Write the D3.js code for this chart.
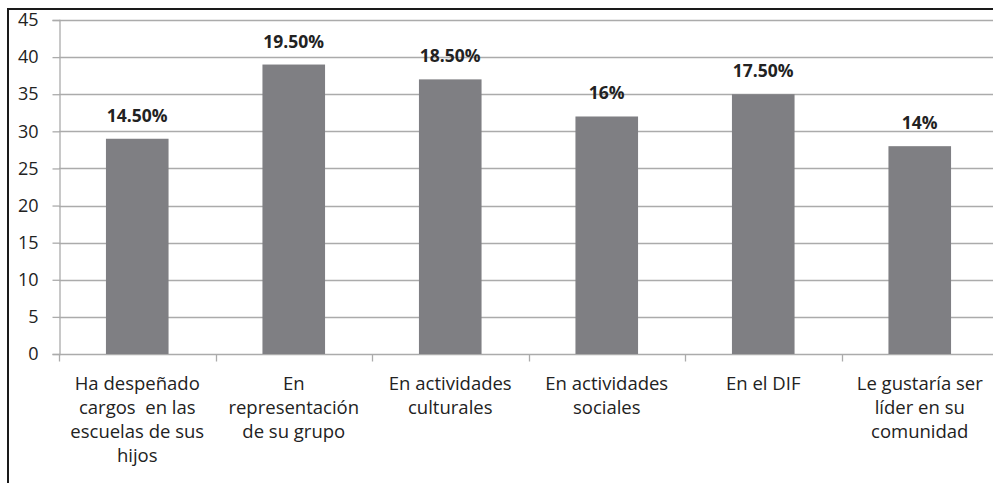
<!DOCTYPE html>
<html>
<head>
<meta charset="utf-8">
<script src="https://cdn.jsdelivr.net/npm/d3@7"></script>
<style>
  html, body { margin: 0; padding: 0; background: #fff; }
  svg { display: block; }
  text { font-family: "Open Sans", "Noto Sans", sans-serif; white-space: pre; }
</style>
</head>
<body>
<svg id="chart" width="993" height="483"></svg>
<script>
// Participación: categories, counts and stated percentages
const categories = [
  ["Ha despeñado", "cargos  en las", "escuelas de sus", "hijos"],
  ["En", "representación", "de su grupo"],
  ["En actividades", "culturales"],
  ["En actividades", "sociales"],
  ["En el DIF"],
  ["Le gustaría ser", "líder en su", "comunidad"]
];
const values = [29, 39, 37, 32, 35, 28];
const percentLabels = ["14.50%", "19.50%", "18.50%", "16%", "17.50%", "14%"];
const yTicks = [0, 5, 10, 15, 20, 25, 30, 35, 40, 45];

const svg = d3.select("#chart");
const plotLeft = 59, plotRight = 998, plotTop = 20, plotBottom = 354;

const x = d3.scaleBand().domain(d3.range(values.length)).range([plotLeft, plotRight]).paddingInner(0.6).paddingOuter(0.3);
const xCat = d3.scaleBand().domain(d3.range(values.length)).range([plotLeft, plotRight]);
const y = d3.scaleLinear().domain([0, 45]).range([plotBottom, plotTop]);

// outer frame
svg.append("rect").attr("x", 8).attr("y", 9).attr("width", 1000).attr("height", 500)
  .attr("fill", "none").attr("stroke", "#1a1a1a").attr("stroke-width", 2);

// horizontal gridlines
svg.append("g").selectAll("line").data(yTicks.filter(d => d > 0)).join("line")
  .attr("x1", plotLeft).attr("x2", plotRight)
  .attr("y1", d => Math.round(y(d)) + 0.5).attr("y2", d => Math.round(y(d)) + 0.5)
  .attr("stroke", "#ababab").attr("stroke-width", 1.3);

// y axis
const yAxis = svg.append("g").attr("transform", `translate(${plotLeft + 0.5},0)`)
  .call(d3.axisLeft(y).tickValues(yTicks).tickSize(7).tickPadding(14));
yAxis.select(".domain").attr("stroke", "#ababab").attr("stroke-width", 1.3);
yAxis.selectAll(".tick line").attr("stroke", "#ababab").attr("stroke-width", 1.3);
yAxis.selectAll(".tick text").attr("font-size", 18).attr("fill", "#222")
  .attr("font-family", "'Open Sans', sans-serif");

// x axis baseline and category separators
const xAxis = svg.append("g").attr("transform", `translate(0,${plotBottom + 0.5})`);
xAxis.append("line").attr("x1", plotLeft).attr("x2", plotRight).attr("stroke", "#ababab").attr("stroke-width", 1.3);
xAxis.selectAll("line.sep").data(d3.range(values.length + 1)).join("line").attr("class", "sep")
  .attr("x1", i => Math.round(plotLeft + i * xCat.step()) + 0.5)
  .attr("x2", i => Math.round(plotLeft + i * xCat.step()) + 0.5)
  .attr("y1", 0).attr("y2", 7).attr("stroke", "#ababab").attr("stroke-width", 1.3);

// bars
svg.append("g").selectAll("rect").data(values).join("rect")
  .attr("x", (d, i) => x(i)).attr("width", x.bandwidth())
  .attr("y", d => y(d)).attr("height", d => y(0) - y(d))
  .attr("fill", "#7f7f83");

// value labels
svg.append("g").selectAll("text").data(values).join("text")
  .attr("x", (d, i) => x(i) + x.bandwidth() / 2)
  .attr("y", d => y(d) - 17)
  .attr("text-anchor", "middle").attr("font-size", 17.5).attr("font-weight", "bold").attr("fill", "#222")
  .text((d, i) => percentLabels[i]);

// category labels
const catG = svg.append("g").selectAll("text").data(categories).join("text")
  .attr("text-anchor", "middle").attr("font-size", 18.5).attr("fill", "#222")
  .attr("transform", (d, i) => `translate(${xCat(i) + xCat.bandwidth() / 2},390)`);
catG.selectAll("tspan").data(d => d).join("tspan")
  .attr("x", 0).attr("dy", (d, j) => j === 0 ? 0 : 24).text(d => d);
</script>
</body>
</html>
